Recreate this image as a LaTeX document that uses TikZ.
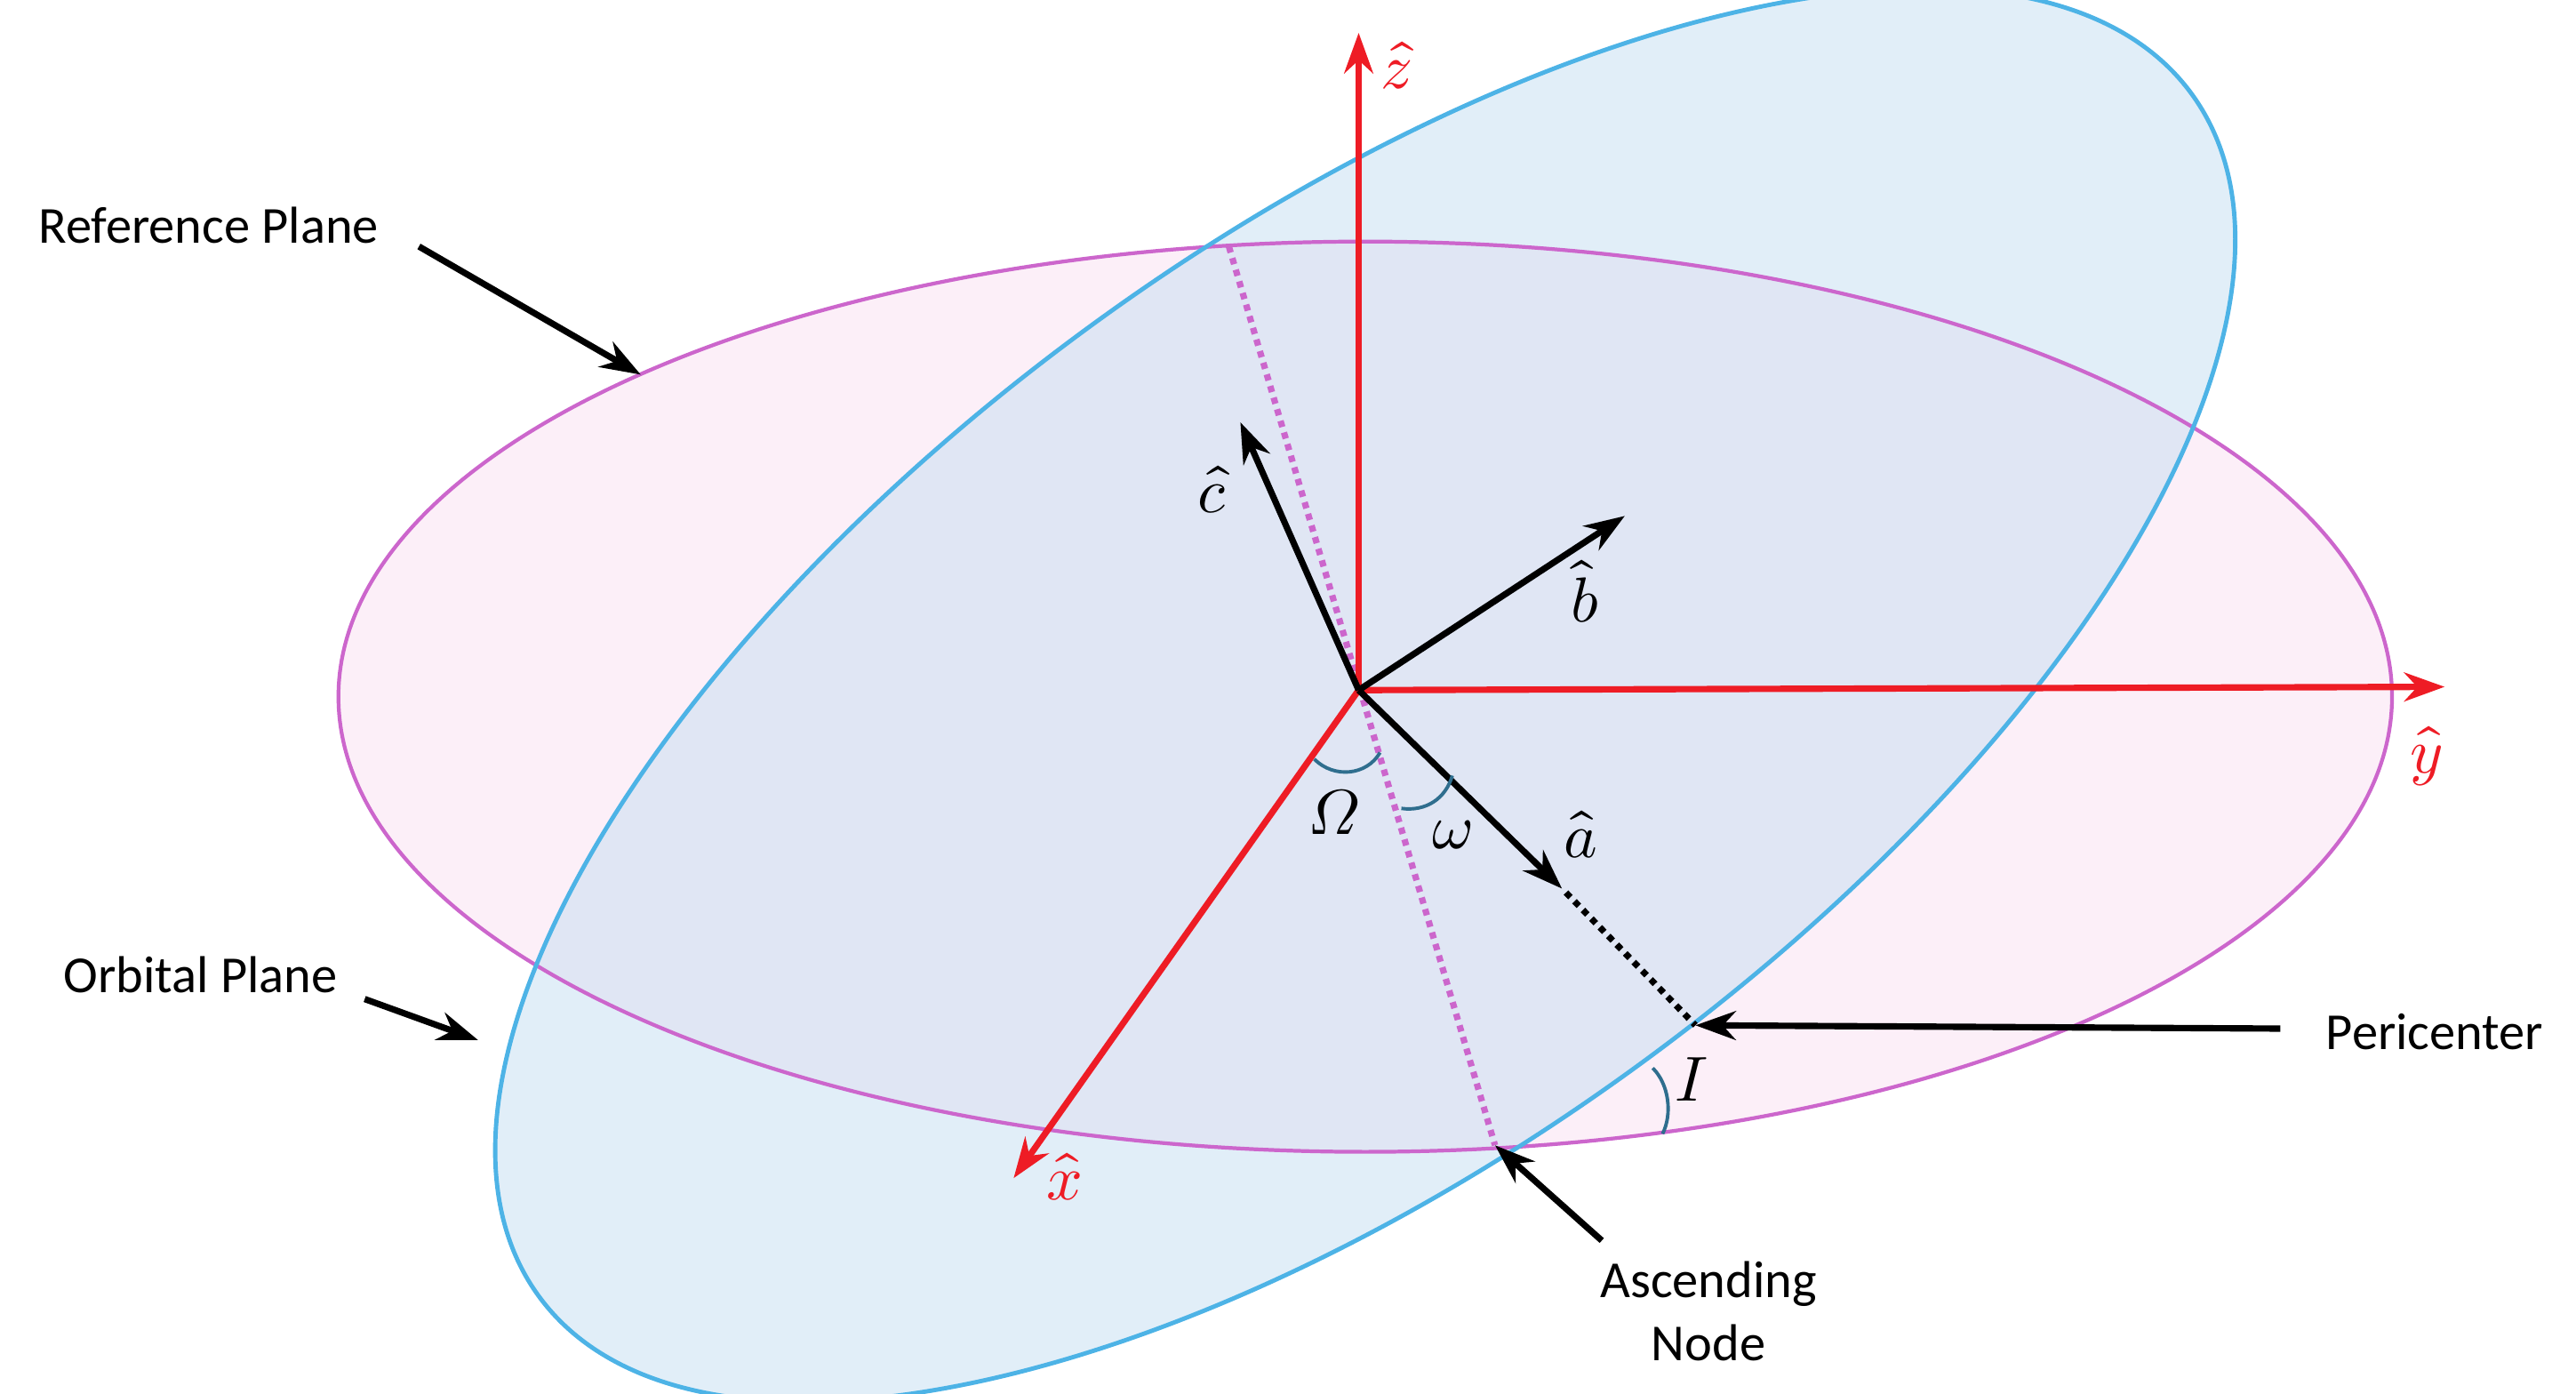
\documentclass[tikz,border=0pt]{standalone}
\usepackage{fontspec}
\setmainfont{Carlito}
\usepackage{unicode-math}
\setmathfont{Latin Modern Math}
\usetikzlibrary{arrows.meta}
\definecolor{axred}{HTML}{EE1C25}
\definecolor{pinkline}{HTML}{CC66CC}
\definecolor{pinkfill}{HTML}{FCEFF8}
\definecolor{blueline}{HTML}{4DB3E6}
\definecolor{bluefill}{HTML}{C9E0F2}
\definecolor{arcblue}{HTML}{2F6E8E}
\begin{document}
\begin{tikzpicture}[x=0.02cm,y=-0.02cm,
  axis/.style={axred,line width=2.2pt,-{Stealth[length=14pt,width=10pt]}},
  vec/.style={black,line width=2.2pt,-{Stealth[length=14pt,width=10pt]}},
  call/.style={black,line width=2.2pt,-{Stealth[length=14pt,width=10pt]}},
  lab/.style={font=\fontsize{18}{22}\selectfont},
  mlab/.style={font=\fontsize{22}{26}\selectfont},
  arcs/.style={arcblue,line width=1.2pt}]
\useasboundingbox (0,0) rectangle (1568,848);
\fill[pinkfill] (831,424) ellipse [x radius=625,y radius=277];
\fill[bluefill,opacity=0.55,shift={(831,423)},rotate=36] (0,0) ellipse [x radius=622,y radius=280];
\draw[pinkline,line width=1.3pt] (831,424) ellipse [x radius=625,y radius=277];
\draw[blueline,line width=1.5pt,shift={(831,423)},rotate=36] (0,0) ellipse [x radius=622,y radius=280];
\coordinate (O) at (827,420);
\coordinate (asc) at (910,697);
\coordinate (desc) at (748,150);
\draw[pinkline,line width=2.2pt,dotted] (desc) -- (asc);
\coordinate (peri) at (1032,624);
\node[inner sep=0] (ahat) at (952,542) {};
\draw[black,line width=2.2pt,dotted] (ahat) -- (peri);
\node[mlab,text=axred] (zl) at (850,40) {$\hat{z}$};
\node[mlab,text=axred] (yl) at (1477,460) {$\hat{y}$};
\node[mlab,text=axred] (xl) at (648,716) {$\hat{x}$};
\draw[axis] (O) -- (827,20);
\draw[axis] (O) -- (1488,418);
\draw[axis] (O) -- (617,717);
\draw[vec] (O) -- (755,257);
\draw[vec] (O) -- (989,314);
\draw[vec] (O) -- (ahat);
\node[mlab] (cl) at (738,298) {$\hat{c}$};
\node[mlab] (bl) at (965,360) {$\hat{b}$};
\node[mlab] (al) at (962,508) {$\hat{a}$};
\draw[arcs] (800,462) .. controls (812,474) and (832,472) .. (840,458);
\draw[arcs] (853,492) .. controls (868,494) and (880,486) .. (884,472);
\draw[arcs] (1006,650) .. controls (1016,660) and (1018,678) .. (1012,690);
\node[mlab] (Om) at (812,494) {$\symit{\Omega}$};
\node[mlab] (om) at (884,508) {$\omega$};
\node[mlab] (Il) at (1030,657) {$I$};
\node[lab] (ref) at (127,137) {Reference Plane};
\node[lab] (orb) at (122,593) {Orbital Plane};
\node[lab] (per) at (1482,628) {Pericenter};
\node[lab,align=center] (ascl) at (1040,798) {Ascending\\Node};
\coordinate (refs) at (255,150);
\coordinate (reft) at (390,228);
\coordinate (orbs) at (222,608);
\coordinate (orbt) at (291,633);
\coordinate (pers) at (1388,626);
\coordinate (ascs) at (975,755);
\draw[call] (refs) -- (reft);
\draw[call] (orbs) -- (orbt);
\draw[call] (pers) -- (peri);
\draw[call] (ascs) -- (asc);
\end{tikzpicture}
\end{document}
